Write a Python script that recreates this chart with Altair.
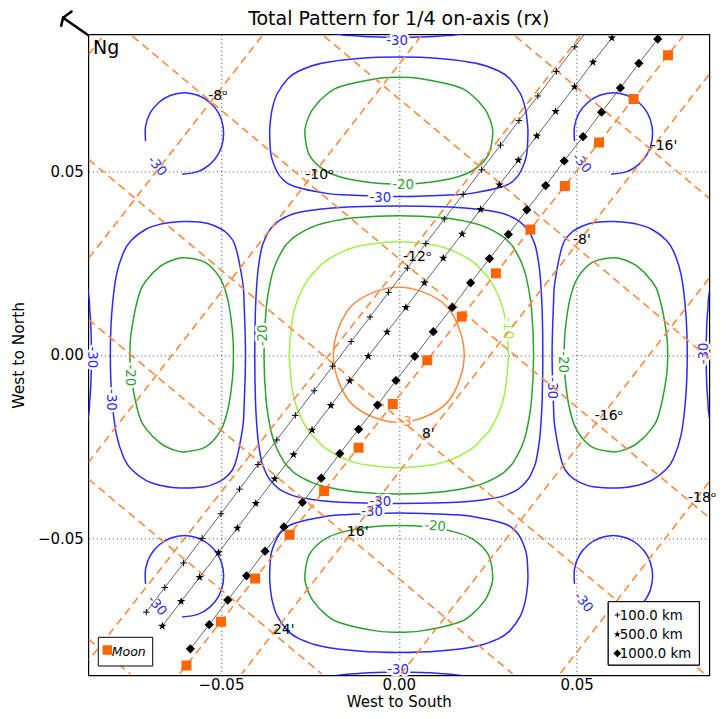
import altair as alt
import pandas as pd

FONT = "DejaVu Sans"

# ---------------- axes ----------------
X_DOMAIN = [-0.0873, 0.0873]
Y_DOMAIN = [-0.0873, 0.0873]
X_TICKS = [-0.05, 0.0, 0.05]
Y_TICKS = [-0.05, 0.0, 0.05]

LEVELS = ["-30", "-20", "-10", "-3"]
LEVEL_COLORS = ["#2a2aff", "#2ca02c", "#9ef04a", "#ff8a3d"]

# ---------------- contours (data units) ----------------
# main lobe, first quadrant, from +x axis to +y axis
M3_QX = [0.0184, 0.0170, 0.0133, 0.0071, 0.0]
M3_QY = [0.0, 0.0071, 0.0133, 0.0170, 0.0184]
M10_QX = [0.0308, 0.0301, 0.0293, 0.0277, 0.0253, 0.0231, 0.0209, 0.0167, 0.0125, 0.0084, 0.0]
M10_QY = [0.0, 0.0084, 0.0125, 0.0167, 0.0209, 0.0231, 0.0253, 0.0277, 0.0293, 0.0301, 0.0308]
M20_QX = [0.0379, 0.0373, 0.0359, 0.0345, 0.0322, 0.0308, 0.0293, 0.0251, 0.0209, 0.0125, 0.0]
M20_QY = [0.0, 0.0125, 0.0209, 0.0251, 0.0293, 0.0308, 0.0322, 0.0345, 0.0359, 0.0373, 0.0379]
M30_QX = [0.0405, 0.0403, 0.0398, 0.0393, 0.0385, 0.0377, 0.0367, 0.0352, 0.0334, 0.0314,
          0.0293, 0.0251, 0.0209, 0.0125, 0.0]
M30_QY = [0.0, 0.0125, 0.0209, 0.0251, 0.0293, 0.0314, 0.0334, 0.0352, 0.0367, 0.0377,
          0.0385, 0.0393, 0.0398, 0.0403, 0.0405]

# side lobe (right one), upper half from inner to outer axis crossing
S20_X = [0.0465, 0.0468, 0.0481, 0.0502, 0.0543, 0.0598, 0.0627, 0.0669, 0.0711, 0.0732, 0.0752, 0.0756]
S20_Y = [0.0, 0.0067, 0.0151, 0.0208, 0.0251, 0.0264, 0.0261, 0.0242, 0.0201, 0.0159, 0.0063, 0.0]
S30_X = [0.0431, 0.0435, 0.0439, 0.0460, 0.0481, 0.0502, 0.0543, 0.0598, 0.0627, 0.0669,
         0.0711, 0.0752, 0.0773, 0.0794, 0.0807, 0.0811]
S30_Y = [0.0, 0.0140, 0.0199, 0.0297, 0.0329, 0.0344, 0.0359, 0.0363, 0.0362, 0.0356,
         0.0342, 0.0312, 0.0281, 0.0217, 0.0113, 0.0]

# outer lobe peeking in at the plot edge (right edge), upper half
E30_X = [0.0864, 0.0866, 0.0869, 0.0870, 0.0873, 0.0878]
E30_Y = [0.0, 0.0084, 0.0125, 0.0146, 0.0169, 0.0196]

# small corner lobes: centres and the open arc around them
CORNER_CX = [-0.0603, 0.0603, -0.0603, 0.0603]
CORNER_CY = [0.0603, 0.0603, -0.0603, -0.0603]
ARC_DX = [-0.0109, -0.0109, -0.0096, -0.0071, -0.0038, 0.0, 0.0038, 0.0071, 0.0096,
          0.0109, 0.0109, 0.0096, 0.0071, 0.0038, -0.0006]
ARC_DY = [-0.0021, 0.0019, 0.0056, 0.0085, 0.0104, 0.0111, 0.0104, 0.0085, 0.0056,
          0.0019, -0.0019, -0.0056, -0.0085, -0.0104, -0.0111]

# contour labels
LBL_X = [-0.0005, -0.0052, 0.0012, -0.0052, -0.0075, 0.0102, -0.0002, 0.0018, 0.0306,
         -0.0382, 0.0463, 0.0431, 0.0857, -0.0862, -0.0756, -0.0808,
         -0.0680, 0.0514, -0.0680, 0.0519]
LBL_Y = [0.0855, 0.0427, 0.0462, -0.0402, -0.0427, -0.0467, -0.0858, -0.0183, 0.0072,
         0.0053, -0.0020, -0.0091, 0.0004, -0.0007, -0.0056, -0.0123,
         0.0514, 0.0522, -0.0683, -0.0674]
LBL_TEXT = ["-30", "-30", "-20", "-30", "-30", "-20", "-30", "-3", "-10",
            "-20", "-20", "-30", "-30", "-30", "-20", "-30",
            "-30", "-30", "-30", "-30"]
LBL_ANGLE = [0, 0, 0, 0, 0, 5, 0, 0, 90,
             270, 90, 90, 270, 90, 90, 90,
             50, 50, 50, 50]

# ---------------- orange dashed grid (degree lines, time lines, moon path) ----------------
DASH_X1 = [-0.0872, -0.0385, 0.0062, 0.0510, 0.0872, 0.0872, 0.0872,
           0.0328, -0.0210, -0.0749, -0.0872, -0.0872, -0.0872, -0.0872, -0.0616]
DASH_Y1 = [0.0818, 0.0868, 0.0868, 0.0868, 0.0763, 0.0208, -0.0347,
           0.0868, 0.0868, 0.0868, 0.0532, 0.0096, -0.0339, -0.0775, -0.0869]
DASH_X2 = [-0.0832, -0.0872, -0.0872, -0.0872, -0.0442, 0.0006, 0.0453,
           0.0872, 0.0872, 0.0872, 0.0860, 0.0320, -0.0217, -0.0755, 0.0799]
DASH_Y2 = [0.0868, 0.0263, -0.0292, -0.0832, -0.0869, -0.0869, -0.0869,
           0.0427, -0.0009, -0.0443, -0.0869, -0.0869, -0.0869, -0.0869, 0.0868]

GRID_LBL_X = [-0.0536, -0.0263, 0.0012, 0.0551, 0.0813, 0.0708, 0.0490, 0.0065, -0.0146, -0.0354]
GRID_LBL_Y = [0.0695, 0.0478, 0.0256, -0.0177, -0.0400, 0.0559, 0.0301, -0.0227, -0.0494, -0.0760]
GRID_LBL_TEXT = ["-8\u1d52", "-10\u1d52", "-12\u1d52", "-16\u1d52", "-18\u1d52",
                 "-16'", "-8'", "8'", "16'", "24'"]

# ---------------- tracks ----------------
T100_X = [-0.0710, -0.0658, -0.0605, -0.0553, -0.0500, -0.0448, -0.0396, -0.0343, -0.0291, -0.0238,
          -0.0186, -0.0134, -0.0081, -0.0029, 0.0024, 0.0076, 0.0128, 0.0181, 0.0233, 0.0286,
          0.0338, 0.0391, 0.0443, 0.0495, 0.0548]
T100_Y = [-0.0701, -0.0634, -0.0567, -0.0500, -0.0433, -0.0366, -0.0299, -0.0232, -0.0165, -0.0098,
          -0.0031, 0.0036, 0.0103, 0.0170, 0.0236, 0.0303, 0.0370, 0.0437, 0.0504, 0.0571,
          0.0638, 0.0705, 0.0772, 0.0839, 0.0906]
T500_X = [-0.0665, -0.0612, -0.0560, -0.0507, -0.0454, -0.0402, -0.0349, -0.0296, -0.0244, -0.0191,
          -0.0138, -0.0086, -0.0033, 0.0020, 0.0072, 0.0125, 0.0178, 0.0230, 0.0283, 0.0336,
          0.0388, 0.0441, 0.0494, 0.0546, 0.0599, 0.0652]
T500_Y = [-0.0739, -0.0672, -0.0606, -0.0539, -0.0472, -0.0405, -0.0338, -0.0272, -0.0205, -0.0138,
          -0.0071, -0.0004, 0.0062, 0.0129, 0.0196, 0.0263, 0.0329, 0.0396, 0.0463, 0.0530,
          0.0596, 0.0663, 0.0730, 0.0797, 0.0863, 0.0930]
T1000_X = [-0.0586, -0.0533, -0.0481, -0.0428, -0.0376, -0.0323, -0.0271, -0.0218, -0.0166, -0.0113,
           -0.0060, -0.0008, 0.0045, 0.0097, 0.0150, 0.0202, 0.0255, 0.0308, 0.0360, 0.0413,
           0.0465, 0.0518, 0.0570, 0.0623, 0.0675, 0.0728, 0.0780]
T1000_Y = [-0.0801, -0.0735, -0.0668, -0.0602, -0.0535, -0.0469, -0.0402, -0.0336, -0.0269, -0.0203,
           -0.0137, -0.0070, -0.0004, 0.0063, 0.0129, 0.0196, 0.0262, 0.0328, 0.0395, 0.0461,
           0.0528, 0.0594, 0.0661, 0.0727, 0.0794, 0.0860, 0.0927]
MOON_X = [-0.0597, -0.0500, -0.0404, -0.0307, -0.0210, -0.0113, -0.0017, 0.0080,
          0.0177, 0.0273, 0.0370, 0.0467, 0.0563, 0.0660, 0.0757]
MOON_Y = [-0.0846, -0.0727, -0.0609, -0.0490, -0.0371, -0.0253, -0.0134, -0.0015,
          0.0104, 0.0222, 0.0341, 0.0460, 0.0578, 0.0697, 0.0816]

TRACK_LABELS = ["100.0 km", "500.0 km", "1000.0 km"]
MOON_LABEL = "Moon"
TITLE = "Total Pattern for 1/4 on-axis (rx)"

# north arrow (outside the frame, top-left)
ARROW_X1 = [-0.0874, -0.0944, -0.0944]
ARROW_Y1 = [0.0871, 0.0918, 0.0918]
ARROW_X2 = [-0.0944, -0.0920, -0.0949]
ARROW_Y2 = [0.0918, 0.0935, 0.0896]

PLUS_PATH = "M-1,0L1,0M0,-1L0,1"
STAR_PATH = ("M0,-1L0.2245,-0.309L0.951,-0.309L0.363,0.118L0.588,0.809L0,0.382"
             "L-0.588,0.809L-0.363,0.118L-0.951,-0.309L-0.2245,-0.309Z")
DASH_COLOR = "#ff8a3d"
MOON_COLOR = "#ff6600"


# ---------------- build tables ----------------
def loop_from_quadrant(qx, qy):
    q = list(zip(qx, qy))
    pts = list(q)
    pts += [(-x, y) for x, y in reversed(q[:-1])]
    pts += [(-x, -y) for x, y in q[1:]]
    pts += [(x, -y) for x, y in reversed(q[1:-1])]
    return pts


def loop_from_half(hx, hy):
    h = list(zip(hx, hy))
    return h + [(x, -y) for x, y in reversed(h[1:-1])]


def open_from_half(hx, hy):
    h = list(zip(hx, hy))
    return [(x, -y) for x, y in reversed(h[1:])] + h


PLACE = {
    "right": lambda x, y: (x, y),
    "left": lambda x, y: (-x, y),
    "top": lambda x, y: (y, x),
    "bottom": lambda x, y: (y, -x),
}

closed_rows, open_rows = [], []
cid = 0
for lvl, qx, qy in [("-3", M3_QX, M3_QY), ("-10", M10_QX, M10_QY),
                    ("-20", M20_QX, M20_QY), ("-30", M30_QX, M30_QY)]:
    for i, (x, y) in enumerate(loop_from_quadrant(qx, qy)):
        closed_rows.append(dict(cid=cid, level=lvl, ord=i, x=x, y=y))
    cid += 1
for lvl, hx, hy in [("-20", S20_X, S20_Y), ("-30", S30_X, S30_Y)]:
    pts = loop_from_half(hx, hy)
    for side, f in PLACE.items():
        for i, (x, y) in enumerate(pts):
            px, py = f(x, y)
            closed_rows.append(dict(cid=cid, level=lvl, ord=i, x=px, y=py))
        cid += 1
pts = open_from_half(E30_X, E30_Y)
for side, f in PLACE.items():
    for i, (x, y) in enumerate(pts):
        px, py = f(x, y)
        open_rows.append(dict(cid=cid, level="-30", ord=i, x=px, y=py))
    cid += 1
for cx, cy in zip(CORNER_CX, CORNER_CY):
    for i, (dx, dy) in enumerate(zip(ARC_DX, ARC_DY)):
        open_rows.append(dict(cid=cid, level="-30", ord=i, x=cx + dx, y=cy + dy))
    cid += 1

closed_df = pd.DataFrame(closed_rows)
open_df = pd.DataFrame(open_rows)
lbl_df = pd.DataFrame(dict(x=LBL_X, y=LBL_Y, text=LBL_TEXT, angle=LBL_ANGLE, level=LBL_TEXT))
dash_df = pd.DataFrame(dict(x=DASH_X1, y=DASH_Y1, x2=DASH_X2, y2=DASH_Y2))
glbl_df = pd.DataFrame(dict(x=GRID_LBL_X, y=GRID_LBL_Y, text=GRID_LBL_TEXT))
t100 = pd.DataFrame(dict(x=T100_X, y=T100_Y))
t500 = pd.DataFrame(dict(x=T500_X, y=T500_Y))
t1000 = pd.DataFrame(dict(x=T1000_X, y=T1000_Y))
moon = pd.DataFrame(dict(x=MOON_X, y=MOON_Y))
arrow_df = pd.DataFrame(dict(x=ARROW_X1, y=ARROW_Y1, x2=ARROW_X2, y2=ARROW_Y2))

# ---------------- encodings ----------------
XS = alt.Scale(domain=X_DOMAIN, nice=False, zero=False)
YS = alt.Scale(domain=Y_DOMAIN, nice=False, zero=False)
XAX = alt.Axis(values=X_TICKS, format=".2f", title="West to South", ticks=False, domain=False,
               labelPadding=2.5, titleY=31.5, titleBaseline="alphabetic",
               labelFontSize=15, titleFontSize=15)
YAX = alt.Axis(values=Y_TICKS, format=".2f", title="West to North", ticks=False, domain=False,
               labelPadding=5, titlePadding=11, labelFontSize=15, titleFontSize=15.5)
X = alt.X("x:Q", scale=XS, axis=XAX)
Y = alt.Y("y:Q", scale=YS, axis=YAX)
COLOR = alt.Color("level:N", scale=alt.Scale(domain=LEVELS, range=LEVEL_COLORS), legend=None)

closed_layer = alt.Chart(closed_df).mark_line(interpolate="cardinal-closed", strokeWidth=1.5, clip=True).encode(
    x=X, y=Y, color=COLOR, detail="cid:N", order="ord:Q")
open_layer = alt.Chart(open_df).mark_line(interpolate="cardinal", strokeWidth=1.5, clip=True).encode(
    x=X, y=Y, color=COLOR, detail="cid:N", order="ord:Q")
halo_layer = alt.Chart(lbl_df).mark_text(fontSize=13.3, font=FONT, fill="white", stroke="white",
                                         strokeWidth=5, strokeJoin="round").encode(
    x=X, y=Y, text="text:N", angle=alt.Angle("angle:Q", scale=None))
lbl_layer = alt.Chart(lbl_df).mark_text(fontSize=13.3, font=FONT).encode(
    x=X, y=Y, text="text:N", angle=alt.Angle("angle:Q", scale=None), color=COLOR)
dash_layer = alt.Chart(dash_df).mark_rule(color=DASH_COLOR, strokeWidth=1.6, strokeDash=[8, 5], clip=True).encode(
    x=X, y=Y, x2="x2:Q", y2="y2:Q")


def track(df):
    return alt.Chart(df).mark_line(color="#555555", strokeWidth=0.9, clip=True).encode(x=X, y=Y)


t100_pts = alt.Chart(t100).mark_point(shape=PLUS_PATH, filled=False, color="black", strokeWidth=1,
                                      size=42, opacity=1, clip=True).encode(x=X, y=Y)
t500_pts = alt.Chart(t500).mark_point(shape=STAR_PATH, filled=True, color="black", size=80,
                                      opacity=1, clip=True).encode(x=X, y=Y)
t1000_pts = alt.Chart(t1000).mark_point(shape="diamond", filled=True, color="black", size=85,
                                        opacity=1, clip=True).encode(x=X, y=Y)
moon_pts = alt.Chart(moon).mark_square(color=MOON_COLOR, size=100, opacity=1, clip=True).encode(x=X, y=Y)

glbl_layer = alt.Chart(glbl_df).mark_text(align="left", baseline="alphabetic", fontSize=14,
                                          font=FONT, color="black").encode(x=X, y=Y, text="text:N")

arrow_layer = alt.Chart(arrow_df).mark_rule(color="black", strokeWidth=2.5, clip=False, strokeCap="round").encode(
    x=X, y=Y, x2="x2:Q", y2="y2:Q")

one = pd.DataFrame(dict(t=[TITLE]))
title_layer = alt.Chart(one).mark_text(align="center", baseline="alphabetic", fontSize=19, font=FONT,
                                       color="black").encode(x=alt.value(310.5), y=alt.value(-9.0), text="t:N")

ng_layer = alt.Chart(pd.DataFrame(dict(t=["Ng"]))).mark_text(
    align="left", baseline="alphabetic", fontSize=19, font=FONT, color="black").encode(
    x=alt.value(4.7), y=alt.value(19.5), text="t:N")

# legends (drawn by hand, like matplotlib's boxes)
moon_one = pd.DataFrame(dict(t=[MOON_LABEL]))
moon_box = alt.Chart(moon_one).mark_rect(fill="white", stroke="black", strokeWidth=1).encode(
    x=alt.value(10), x2=alt.value(64.4), y=alt.value(603), y2=alt.value(631.7))
moon_key = alt.Chart(moon_one).mark_square(color=MOON_COLOR, size=90, opacity=1).encode(
    x=alt.value(19), y=alt.value(615.7))
moon_txt = alt.Chart(moon_one).mark_text(
    align="left", baseline="alphabetic", fontSize=12.5, font=FONT, fontStyle="italic", color="black").encode(
    x=alt.value(23.5), y=alt.value(621.5), text="t:N")

trk_box = alt.Chart(pd.DataFrame(dict(t=TRACK_LABELS))).mark_rect(fill="white", stroke="black", strokeWidth=1).encode(
    x=alt.value(520), x2=alt.value(611), y=alt.value(567.4), y2=alt.value(630.7))
k1 = alt.Chart(pd.DataFrame(dict(t=[TRACK_LABELS[0]]))).mark_point(
    shape=PLUS_PATH, filled=False, color="black", strokeWidth=1, size=25, opacity=1).encode(
    x=alt.value(529), y=alt.value(580.7))
k2 = alt.Chart(pd.DataFrame(dict(t=[TRACK_LABELS[1]]))).mark_point(
    shape=STAR_PATH, filled=True, color="black", size=55, opacity=1).encode(
    x=alt.value(529), y=alt.value(600))
k3 = alt.Chart(pd.DataFrame(dict(t=[TRACK_LABELS[2]]))).mark_point(
    shape="diamond", filled=True, color="black", size=60, opacity=1).encode(
    x=alt.value(529), y=alt.value(619))
trk_txt = alt.Chart(pd.DataFrame(dict(t=TRACK_LABELS, yy=[585.4, 604.7, 623.7]))).mark_text(
    align="left", baseline="alphabetic", fontSize=13.3, font=FONT, color="black").encode(
    x=alt.value(531.5), y=alt.Y("yy:Q", scale=None, axis=None), text="t:N")

chart = alt.layer(
    closed_layer, open_layer, halo_layer, lbl_layer, dash_layer,
    track(t100), track(t500), track(t1000),
    t100_pts, t500_pts, t1000_pts, moon_pts,
    glbl_layer, arrow_layer, title_layer, ng_layer,
    moon_box, moon_key, moon_txt,
    trk_box, k1, k2, k3, trk_txt,
).properties(
    width=621, height=641,
    autosize=alt.AutoSizeParams(type="none"),
    padding={"left": 80.3, "top": 26.3, "right": 8.5, "bottom": 35},
).configure(font=FONT).configure_view(stroke="black", strokeWidth=1.2).configure_axis(
    labelFont=FONT, titleFont=FONT, labelColor="black", titleColor="black", titleFontWeight="normal",
    grid=True, gridDash=[1, 3], gridColor="#333333", gridWidth=1, gridOpacity=0.9,
)

chart.save("out.html", embed_options={"renderer": "svg", "actions": False})
